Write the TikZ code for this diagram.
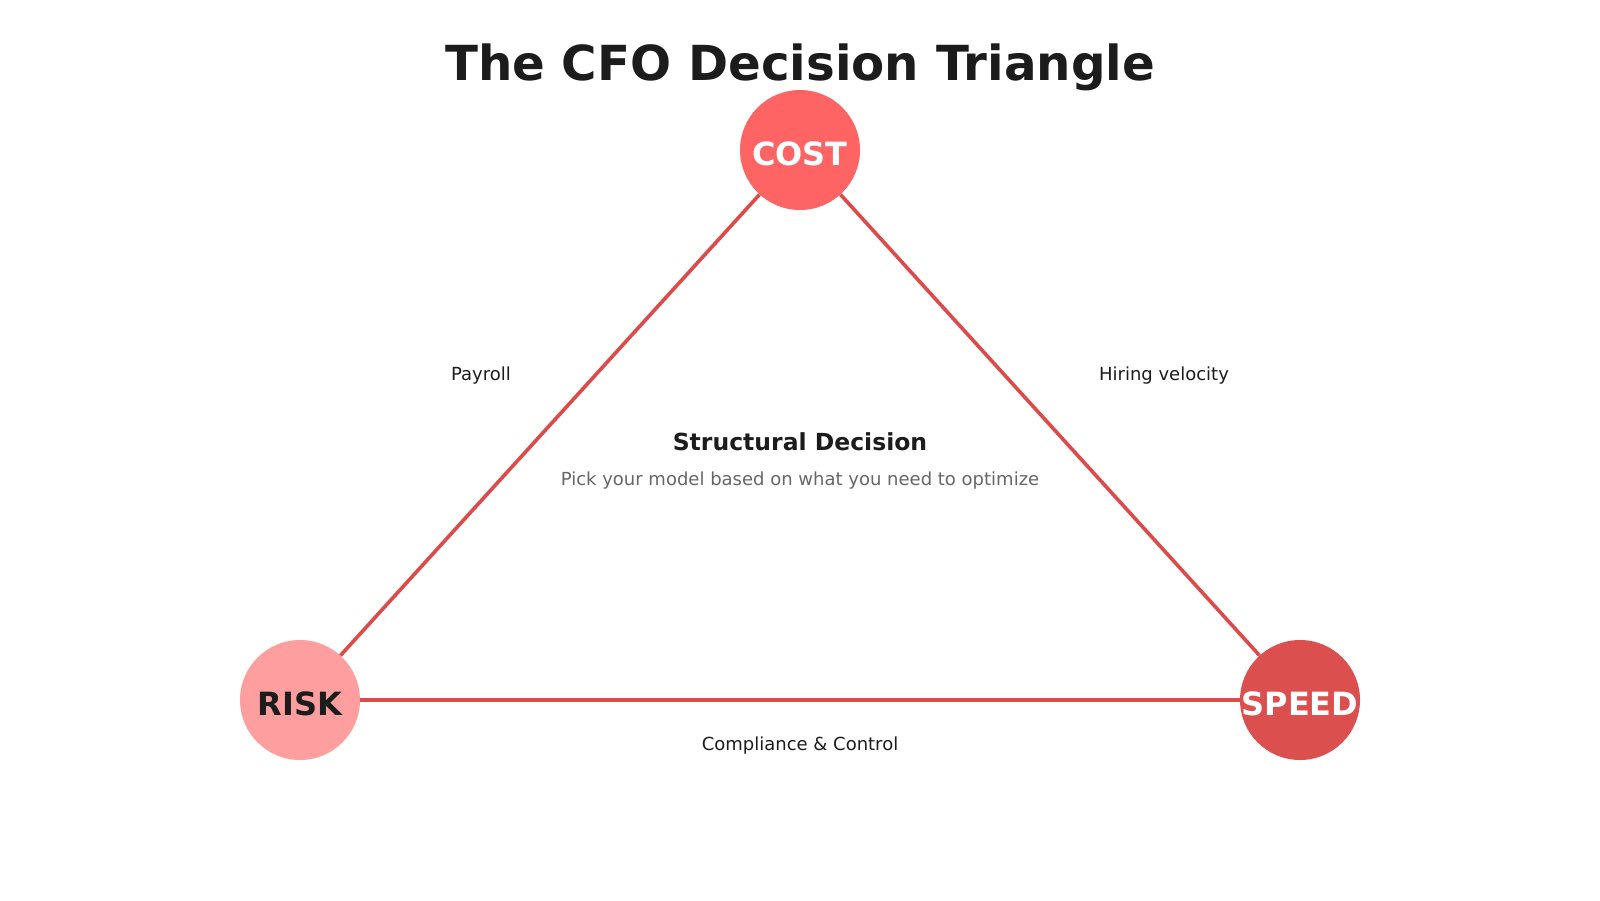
\documentclass[tikz,border=0pt]{standalone}
\usepackage{fontspec}
\setmainfont{DejaVu Sans}
\definecolor{costc}{HTML}{FF6464}
\definecolor{riskc}{HTML}{FF9E9E}
\definecolor{speedc}{HTML}{DC4F4F}
\definecolor{edgec}{HTML}{DC4A4A}
\definecolor{ink}{HTML}{1C1C1C}
\definecolor{subc}{HTML}{666666}
\tikzset{
  vertex/.style={circle, minimum size=120pt, inner sep=0pt},
  vlabel/.style={anchor=base, font=\fontsize{32}{32}\selectfont\bfseries},
  edgeline/.style={draw=edgec, line width=3.6pt},
  elabel/.style={anchor=base, text=ink, font=\fontsize{18}{18}\selectfont},
}
\begin{document}
\begin{tikzpicture}[x=1pt,y=-1pt]
\useasboundingbox (0,0) rectangle (1600,900);
\node[vertex, fill=costc] (cost) at (800,150) {};
\node[vertex, fill=riskc] (risk) at (300,700) {};
\node[vertex, fill=speedc] (speed) at (1300,700) {};
\draw[edgeline] (cost) -- (risk);
\draw[edgeline] (cost) -- (speed);
\draw[edgeline] (risk) -- (speed);
\node[vlabel, text=white] (costt) at (800,165) {COST};
\node[vlabel, text=ink] (riskt) at (300,715) {RISK};
\node[vlabel, text=white] (speedt) at (1300,715) {SPEED};
\node[anchor=base, text=ink, font=\fontsize{48.3}{48.3}\selectfont\bfseries] (title) at (800,80) {The CFO Decision Triangle};
\node[elabel] (payroll) at (481,380) {Payroll};
\node[elabel] (hiring) at (1164,380) {Hiring velocity};
\node[elabel] (compl) at (800,750) {Compliance \& Control};
\node[anchor=base, text=ink, font=\fontsize{23.5}{23.5}\selectfont\bfseries] (struct) at (800,450) {Structural Decision};
\node[anchor=base, text=subc, font=\fontsize{18}{18}\selectfont] (sub) at (800,485) {Pick your model based on what you need to optimize};
\end{tikzpicture}
\end{document}
